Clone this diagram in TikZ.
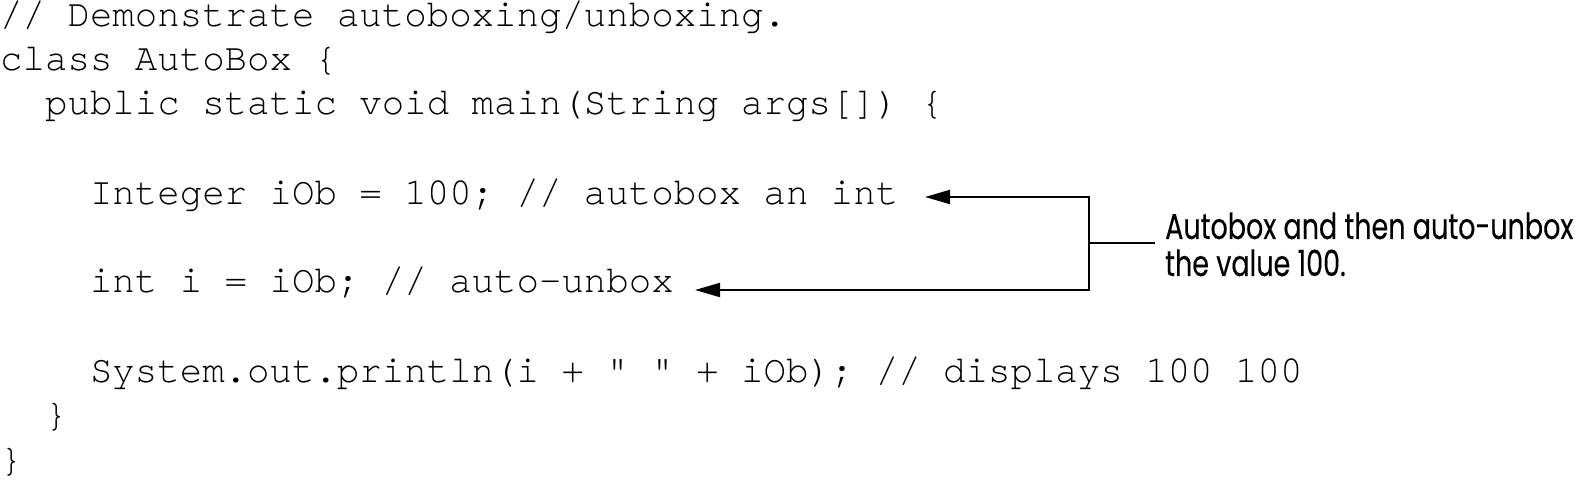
\documentclass[tikz,border=0pt]{standalone}
\usepackage{fontspec}
\usetikzlibrary{arrows.meta}
\newfontfamily\codefont[FakeStretch=0.972]{texgyrecursor-regular.otf}
\newfontfamily\notefont[FakeStretch=0.75,FakeBold=0.2]{Poppins}
\begin{document}
\begin{tikzpicture}[x=1bp,y=-1bp,
  codeline/.style={anchor=base west,inner sep=0pt,font=\codefont\fontsize{38.5bp}{44.5bp}\selectfont},
  notetext/.style={anchor=base west,inner sep=0pt,font=\notefont\fontsize{36bp}{37bp}\selectfont},
  conn/.style={line width=2bp,draw=black},
  tip/.style={-{Triangle[length=25bp,width=14bp]}}]
\useasboundingbox (0,0) rectangle (1586,485);
\def\cw{22.45}
\node[codeline] (l1) at (0,27) {// Demonstrate autoboxing/unboxing.};
\node[codeline] (l2) at (0,71) {class AutoBox \{};
\node[codeline] (l3) at (2*\cw,115) {public static void main(String args[]) \{};
\node[codeline] (l5) at (4*\cw,204.5) {Integer iOb = 100; // autobox an int};
\node[codeline] (l7) at (4*\cw,293) {int i = iOb; // auto-unbox};
\node[codeline] (l9) at (4*\cw,382) {System.out.println(i + " " + iOb); // displays 100 100};
\node[codeline] (l10) at (2*\cw,426.5) {\}};
\node[codeline] (l11) at (0,471) {\}};
\node[notetext] (note) at (1165,239) {Autobox and then auto-unbox};
\node[notetext] (note2) at (1165,276) {the value 100.};
\coordinate (tipA) at (925,197);
\coordinate (tipB) at (695,290);
\coordinate (joint) at (1089,243);
\draw[conn] (joint) -- ([xshift=-10bp]note.west |- joint);
\draw[conn,tip] (joint) |- (tipA);
\draw[conn,tip] (joint) |- (tipB);
\end{tikzpicture}
\end{document}
